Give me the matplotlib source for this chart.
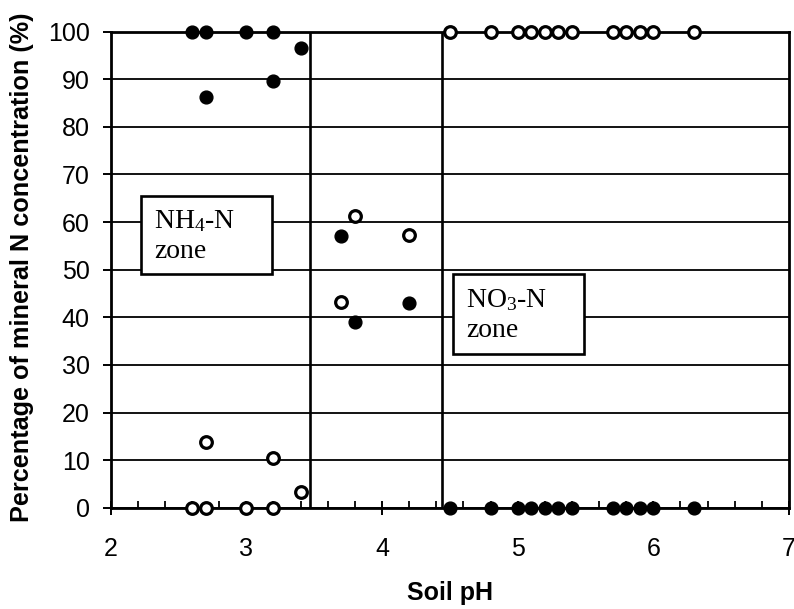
import matplotlib
matplotlib.use("Agg")
import matplotlib.pyplot as plt
from matplotlib.ticker import MultipleLocator
from matplotlib.patches import Rectangle

# NH4-N (filled) and NO3-N (open) percentages by soil pH
ph = [2.6, 2.7, 2.7, 3.0, 3.2, 3.2, 3.4, 3.7, 3.8, 4.2,
      4.5, 4.8, 5.0, 5.1, 5.2, 5.3, 5.4, 5.7, 5.8, 5.9, 6.0, 6.3]
nh4 = [100, 100, 86.2, 100, 100, 89.6, 96.6, 57.0, 39.0, 43.0,
       0, 0, 0, 0, 0, 0, 0, 0, 0, 0, 0, 0]
no3 = [0, 0, 13.8, 0, 0, 10.4, 3.4, 43.3, 61.2, 57.3,
       100, 100, 100, 100, 100, 100, 100, 100, 100, 100, 100, 100]
boundaries = [3.47, 4.44]
xlabel = "Soil pH"
ylabel = "Percentage of mineral N concentration (%)"

plt.rcParams['font.family'] = ['Liberation Sans', 'DejaVu Sans']
plt.rcParams['mathtext.fontset'] = 'custom'
plt.rcParams['mathtext.rm'] = 'Liberation Serif'
plt.rcParams['mathtext.it'] = 'Liberation Serif:italic'
plt.rcParams['mathtext.bf'] = 'Liberation Serif:bold'

fig = plt.figure(figsize=(7.94, 6.09), dpi=100)
ax = fig.add_axes([110.7/794, 1-507.7/609, (789-110.7)/794, (507.7-31.7)/609])

ax.set_xlim(2, 7)
ax.set_ylim(0, 100)
ax.yaxis.set_major_locator(MultipleLocator(10))
ax.xaxis.set_major_locator(MultipleLocator(1))
ax.xaxis.set_minor_locator(MultipleLocator(0.2))
ax.grid(axis='y', color='black', linewidth=1.3)
ax.set_axisbelow(True)

for b in boundaries:
    ax.axvline(b, color='black', linewidth=1.9, zorder=2)

ax.plot(ph, nh4, linestyle='none', marker='o', markersize=9.2,
        markerfacecolor='black', markeredgecolor='black', zorder=4, clip_on=False)
ax.plot(ph, no3, linestyle='none', marker='o', markersize=8.4,
        markerfacecolor='white', markeredgecolor='black', markeredgewidth=2.3,
        zorder=5, clip_on=False)

for sp in ax.spines.values():
    sp.set_linewidth(2.0)
    sp.set_color('black')

ax.tick_params(axis='both', which='major', labelsize=18, width=1.4, length=6,
               color='black', labelcolor='black')
ax.tick_params(axis='x', which='major', direction='inout', length=10, pad=16)
ax.tick_params(axis='x', which='minor', direction='in', length=5, width=1.3)
ax.tick_params(axis='y', which='major', direction='out', length=6, pad=9)

ax.set_xlabel(xlabel, fontsize=18, fontweight='bold')
ax.xaxis.set_label_coords(0.5, -0.155)
ax.set_ylabel(ylabel, fontsize=18.2, fontweight='bold')
ax.yaxis.set_label_coords(-0.113, 0.505)

ax.add_patch(Rectangle((2.22, 49.0), 0.97, 16.5, facecolor='white',
                       edgecolor='black', linewidth=1.9, zorder=3))
ax.add_patch(Rectangle((4.52, 32.2), 0.97, 17.0, facecolor='white',
                       edgecolor='black', linewidth=1.9, zorder=3))
serif = ['Liberation Serif', 'DejaVu Serif']
ax.text(2.32, 57.0, "NH$_4$-N\nzone", family=serif, fontsize=20, va='center',
        ha='left', zorder=6, linespacing=1.25)
ax.text(4.62, 40.5, "NO$_3$-N\nzone", family=serif, fontsize=20, va='center',
        ha='left', zorder=6, linespacing=1.25)

fig.savefig("out.png", dpi=100)
